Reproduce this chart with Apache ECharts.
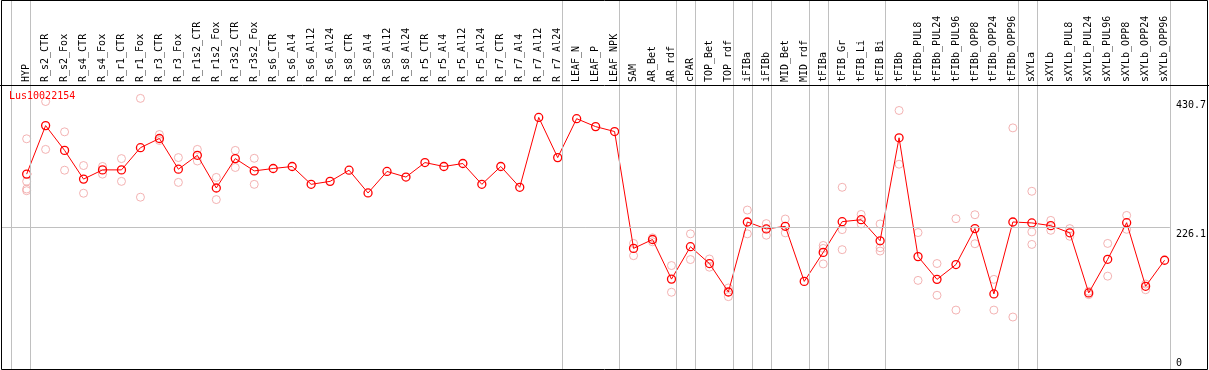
<!DOCTYPE html>
<html>
<head>
<meta charset="utf-8">
<script src="https://cdn.jsdelivr.net/npm/echarts@6/dist/echarts.min.js"></script>
<style>html,body{margin:0;padding:0;background:#fff}#c{width:1209px;height:370px}</style>
</head>
<body>
<div id="c"></div>
<script>
const geneName = 'Lus10022154';
const categories = ['HYP','R_s2_CTR','R_s2_Fox','R_s4_CTR','R_s4_Fox','R_r1_CTR','R_r1_Fox','R_r3_CTR','R_r3_Fox','R_r1s2_CTR',
  'R_r1s2_Fox','R_r3s2_CTR','R_r3s2_Fox','R_s6_CTR','R_s6_Al4','R_s6_Al12','R_s6_Al24','R_s8_CTR','R_s8_Al4','R_s8_Al12',
  'R_s8_Al24','R_r5_CTR','R_r5_Al4','R_r5_Al12','R_r5_Al24','R_r7_CTR','R_r7_Al4','R_r7_Al12','R_r7_Al24','LEAF_N',
  'LEAF_P','LEAF_NPK','SAM','AR_Bet','AR_rdf','cPAR','TOP_Bet','TOP_rdf','iFIBa','iFIBb',
  'MID_Bet','MID_rdf','tFIBa','tFIB_Gr','tFIB_Li','tFIB_Bi','tFIBb','tFIBb_PUL8','tFIBb_PUL24','tFIBb_PUL96',
  'tFIBb_OPP8','tFIBb_OPP24','tFIBb_OPP96','sXYLa','sXYLb','sXYLb_PUL8','sXYLb_PUL24','sXYLb_PUL96','sXYLb_OPP8','sXYLb_OPP24',
  'sXYLb_OPP96'];
const meanValues = [
  310.6, 387.5, 348.2, 302.7, 317.3, 317.3, 352.5, 367.1, 318.4, 340.4,
  288.6, 335.2, 315.7, 319.5, 322.7, 294.4, 299.1, 316.8, 280.7, 314.8,
  305.9, 328.9, 322.7, 327.4, 294.4, 322.7, 289.7, 400.5, 336.8, 398.5,
  385.9, 378.1, 192.8, 206.9, 144.1, 195.5, 168.8, 123.7, 234.7, 223.7,
  227.8, 140.5, 186.5, 235.2, 238.3, 204.9, 368.2, 179.8, 143.7, 167.2,
  224.2, 120.6, 234.7, 233.2, 228.9, 217.5, 122.2, 175.5, 233.6, 132.7,
  174.0];
const rep1 = [
  366.6, 425.7, 377.6, 324.2, 322.7, 335.2, 430.7, 373.4, 336.8, 349.8,
  305.4, 348.2, 335.7, null, null, null, null, null, null, null,
  null, null, null, null, null, null, null, null, null, null,
  null, null, 200.7, 209.6, 165.6, 215.9, 176.0, 130.0, 253.6, 232.1,
  239.4, null, 197.5, 289.7, 246.7, 231.6, 411.5, 217.9, 168.8, 239.9,
  246.2, 143.7, 383.9, 283.4, 237.2, 224.2, 124.8, 200.7, 245.1, 136.3,
  null];
const rep2 = [
  299.1, 349.8, 316.8, 280.3, 310.6, 299.1, 274.0, 363.9, 297.5, 331.4,
  270.2, 321.1, 294.4, null, null, null, null, null, null, null,
  null, null, null, null, null, null, null, null, null, null,
  null, null, 181.3, 203.3, 123.3, 175.1, 163.0, 116.3, 215.9, 213.7,
  217.5, null, 192.8, 222.6, 231.6, 193.9, 326.3, 142.1, 118.5, 95.0,
  200.2, 95.0, 84.0, 219.0, 221.5, 212.1, 119.5, 148.8, 223.1, 127.3,
  null];
const rep3 = [
  287.0, null, null, null, null, null, null, null, null, null,
  null, null, null, null, null, null, null, null, null, null,
  null, null, null, null, null, null, null, null, null, null,
  null, null, null, null, null, null, null, null, null, null,
  null, null, 168.2, 190.8, null, 188.6, null, null, null, null,
  null, null, null, 199.1, null, null, null, null, null, null,
  null];
const rep4 = [
  284.3, null, null, null, null, null, null, null, null, null,
  null, null, null, null, null, null, null, null, null, null,
  null, null, null, null, null, null, null, null, null, null,
  null, null, null, null, null, null, null, null, null, null,
  null, null, null, null, null, null, null, null, null, null,
  null, null, null, null, null, null, null, null, null, null,
  null];
const yTickValues = [226.1, 430.7];
const zeroLabel = 0;
const refLineValue = 226.1;
// indices of the last category in each group (group separators)
const groupEnds = [-1, 0, 28, 31, 34, 35, 37, 38, 39, 41, 42, 45, 52, 53, 60];

const FONT = 'DejaVu Sans Mono';
const xMin = -1.3, xMax = 60.28;
const repData = [];
[rep1, rep2, rep3, rep4].forEach(r => r.forEach((v, i) => { if (v != null) repData.push([i, v]); }));
const meanData = meanValues.map((v, i) => [i, v]);

const chart = echarts.init(document.getElementById('c'), null, {renderer: 'canvas'});
chart.setOption({
  animation: false,
  backgroundColor: '#fff',
  title: {
    text: geneName, left: 9, top: 91, padding: 0,
    textStyle: {color: '#ff0000', fontSize: 10, fontFamily: FONT, fontWeight: 'normal'}
  },
  grid: [
    {left: 2, right: 37, top: 85, bottom: -2.8},
    {left: 2, right: 37, top: 0, bottom: 0}
  ],
  xAxis: [
    {
      type: 'value', gridIndex: 0, position: 'top', min: xMin, max: xMax,
      axisLine: {show: false}, axisTick: {show: false}, splitLine: {show: false},
      axisLabel: {
        customValues: categories.map((c, i) => i),
        formatter: v => categories[v] || '',
        rotate: 90, margin: 3, fontSize: 10, fontFamily: FONT, color: '#000'
      }
    },
    {
      type: 'value', gridIndex: 1, min: xMin, max: xMax, show: false
    }
  ],
  yAxis: [
    {
      type: 'value', gridIndex: 0, position: 'right', min: 0, max: 451.9,
      axisLine: {show: false}, axisTick: {show: false}, splitLine: {show: false},
      axisLabel: {
        customValues: yTickValues, margin: 6, verticalAlign: 'top', align: 'left',
        padding: [2, 0, 0, 0],
        fontSize: 10, fontFamily: FONT, color: '#000',
        formatter: v => String(v)
      }
    },
    {type: 'value', gridIndex: 1, min: 0, max: 1, show: false}
  ],
  series: [
    {
      type: 'scatter', xAxisIndex: 1, yAxisIndex: 1, data: [], silent: true, z: 1,
      markLine: {
        silent: true, symbol: 'none', label: {show: false},
        lineStyle: {color: '#c0c0c0', width: 1, type: 'solid'},
        data: groupEnds.map(k => ({xAxis: k + 0.2}))
      }
    },
    {
      type: 'scatter', xAxisIndex: 0, yAxisIndex: 0, data: repData, z: 3,
      symbol: 'circle', symbolSize: 8,
      itemStyle: {color: 'rgba(0,0,0,0)', borderColor: '#f0a0a0', borderWidth: 1},
      markLine: {
        silent: true, symbol: 'none', label: {show: false},
        lineStyle: {color: '#c0c0c0', width: 1, type: 'solid'},
        data: [{yAxis: refLineValue}]
      }
    },
    {
      type: 'line', xAxisIndex: 0, yAxisIndex: 0, data: meanData, z: 4,
      symbol: 'circle', symbolSize: 8, showAllSymbol: true,
      lineStyle: {color: '#ff0000', width: 1},
      itemStyle: {color: 'rgba(0,0,0,0)', borderColor: '#ff0000', borderWidth: 1.3}
    }
  ]
});
const zy = Math.min(chart.convertToPixel({yAxisIndex: 0}, zeroLabel), 358);
const zx = chart.convertToPixel({xAxisIndex: 0}, xMax) + 6;
chart.setOption({graphic: [
  {type: 'rect', silent: true, z: 10, shape: {x: 1.5, y: 0.5, width: 1206, height: 369},
    style: {fill: 'none', stroke: '#000', lineWidth: 1}},
  {type: 'line', silent: true, z: 10, shape: {x1: 0, y1: 85.5, x2: 1209, y2: 85.5},
    style: {stroke: '#000', lineWidth: 1}},
  {type: 'text', silent: true, z: 10, x: zx, y: zy,
    style: {text: String(zeroLabel), fontSize: 10, fontFamily: FONT, fill: '#000', verticalAlign: 'top'}}
]});
</script>
</body>
</html>
